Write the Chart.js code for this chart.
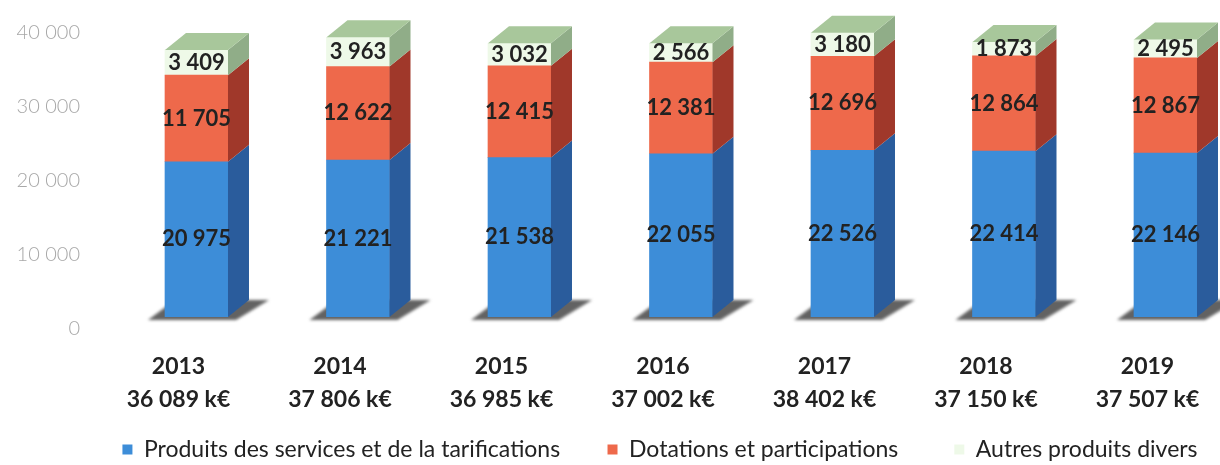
<!DOCTYPE html>
<html>
<head>
<meta charset="utf-8">
<script src="https://cdn.jsdelivr.net/npm/chart.js@4.4.1/dist/chart.umd.min.js"></script>
<style>
  html, body { margin: 0; padding: 0; background: #fff; overflow: hidden; }
  #wrap { width: 1220px; height: 465px; }
</style>
</head>
<body>
<div id="wrap"><canvas id="revenueChart" width="1220" height="465"></canvas></div>
<script>
const years = ['2013', '2014', '2015', '2016', '2017', '2018', '2019'];
const totals = [36089, 37806, 36985, 37002, 38402, 37150, 37507];
const services = [20975, 21221, 21538, 22055, 22526, 22414, 22146];
const dotations = [11705, 12622, 12415, 12381, 12696, 12864, 12867];
const autres = [3409, 3963, 3032, 2566, 3180, 1873, 2495];
const yTicks = [0, 10000, 20000, 30000, 40000];

// 3d look: depth of the side / top faces
const DX = 21, DY = 17;
const sideColors = ['#2a5c9c', '#a0382a', '#90ad88'];
const topColor = '#a8c79b';
const legendGaps = ['\u2003\u2003\u2009', '\u2003\u2003\u2002'];

function fmt(n) {
  return String(n).replace(/\B(?=(\d{3})+(?!\d))/g, ' ');
}

const bars3d = {
  id: 'bars3d',
  beforeDatasetsDraw(chart) {
    const ctx = chart.ctx;
    ctx.save();
    ctx.filter = 'blur(1.5px)';
    ctx.fillStyle = 'rgba(70,70,70,0.85)';
    chart.getDatasetMeta(0).data.forEach(bar => {
      const { x, base, width } = bar.getProps(['x', 'base', 'width'], true);
      const l = x - width / 2, r = x + width / 2;
      ctx.beginPath();
      ctx.moveTo(l - 17, base + 3);
      ctx.lineTo(r + 8, base + 3);
      ctx.lineTo(r + DX + 20, base - DY);
      ctx.lineTo(l + 10, base - DY);
      ctx.closePath();
      ctx.fill();
    });
    ctx.restore();
  },
  afterDatasetsDraw(chart) {
    const ctx = chart.ctx;
    const last = chart.data.datasets.length - 1;
    ctx.save();
    chart.data.datasets.forEach((ds, di) => {
      chart.getDatasetMeta(di).data.forEach(bar => {
        const { x, y, base, width } = bar.getProps(['x', 'y', 'base', 'width'], true);
        const l = x - width / 2, r = x + width / 2;
        ctx.fillStyle = sideColors[di];
        ctx.beginPath();
        ctx.moveTo(r, y);
        ctx.lineTo(r + DX, y - DY);
        ctx.lineTo(r + DX, base - DY);
        ctx.lineTo(r, base);
        ctx.closePath();
        ctx.fill();
        if (di === last) {
          ctx.fillStyle = topColor;
          ctx.beginPath();
          ctx.moveTo(l, y);
          ctx.lineTo(l + DX, y - DY);
          ctx.lineTo(r + DX, y - DY);
          ctx.lineTo(r, y);
          ctx.closePath();
          ctx.fill();
        }
      });
    });
    // value labels in the middle of each segment
    ctx.font = 'bold 22px Lato';
    ctx.fillStyle = '#222';
    ctx.textAlign = 'center';
    ctx.textBaseline = 'middle';
    chart.data.datasets.forEach((ds, di) => {
      chart.getDatasetMeta(di).data.forEach((bar, i) => {
        const { x, y, base } = bar.getProps(['x', 'y', 'base'], true);
        ctx.fillText(fmt(ds.data[i].y), x, (y + base) / 2);
      });
    });
    ctx.restore();
  }
};

Chart.defaults.font.family = 'Lato';

new Chart(document.getElementById('revenueChart').getContext('2d'), {
  type: 'bar',
  data: {
    datasets: [
      { label: 'Produits des services et de la tarifications', data: services.map((v, i) => ({ x: i, y: v })), backgroundColor: '#3d8dd8' },
      { label: 'Dotations et participations', data: dotations.map((v, i) => ({ x: i, y: v })), backgroundColor: '#ee694b' },
      { label: 'Autres produits divers', data: autres.map((v, i) => ({ x: i, y: v })), backgroundColor: '#eef9e8' }
    ]
  },
  options: {
    responsive: false,
    animation: false,
    devicePixelRatio: 1,
    barThickness: 63,
    borderWidth: 0,
    layout: { padding: { left: 0, top: 21, right: 0, bottom: -6 } },
    plugins: {
      legend: {
        position: 'bottom',
        fullSize: false,
        labels: {
          boxWidth: 10,
          boxHeight: 10,
          padding: 10,
          color: '#222',
          font: { size: 23 },
          generateLabels: chart => {
            const items = Chart.defaults.plugins.legend.labels.generateLabels(chart);
            // wider gap after the first two entries
            items.forEach((it, i) => { if (legendGaps[i]) it.text += legendGaps[i]; });
            return items;
          }
        }
      },
      tooltip: { enabled: false }
    },
    scales: {
      x: {
        type: 'linear',
        offset: false,
        min: -0.5975,
        max: 6.3375,
        stacked: true,
        grid: { display: false, drawTicks: false },
        border: { display: false },
        afterBuildTicks: s => { s.ticks = years.map((_, i) => ({ value: i })); },
        afterFit: s => { s.height = 111; s.paddingLeft = 0; s.paddingRight = 0; },
        ticks: {
          autoSkip: false,
          maxRotation: 0,
          padding: 33,
          labelOffset: -18,
          color: '#222',
          font: { size: 23, weight: 'bold', lineHeight: 1.435 },
          callback: v => [years[v], fmt(totals[v]) + ' k€']
        }
      },
      y: {
        stacked: true,
        min: 0,
        max: 40000,
        grid: { display: false, drawTicks: false },
        border: { display: false },
        afterBuildTicks: s => { s.ticks = yTicks.map(v => ({ value: v })); },
        afterFit: s => { s.width = 100; s.paddingTop = 0; s.paddingBottom = 0; },
        ticks: {
          padding: 20,
          labelOffset: 12,
          color: '#a8a8a8',
          font: { size: 20, weight: 300 },
          callback: v => fmt(v)
        }
      }
    }
  },
  plugins: [bars3d]
});
</script>
</body>
</html>
